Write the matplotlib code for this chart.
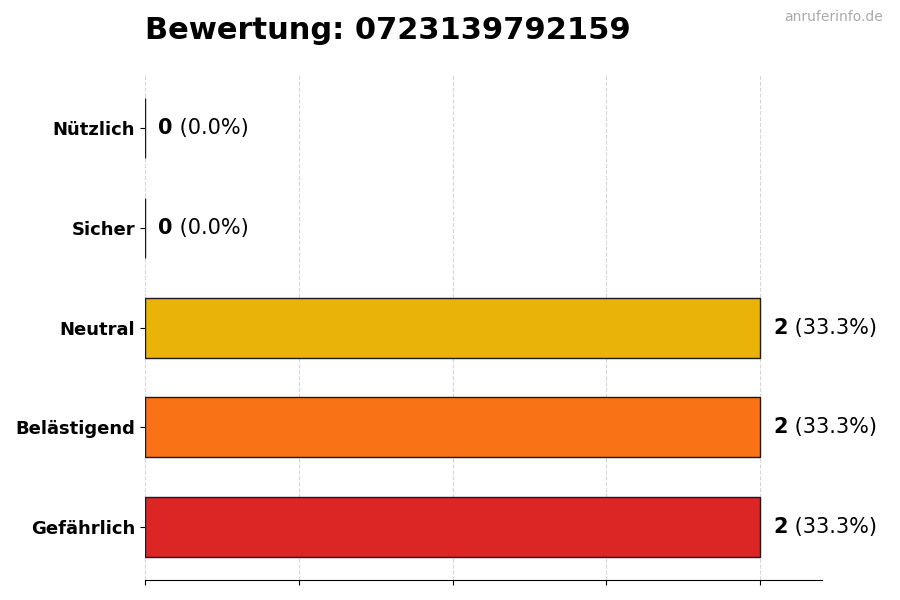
import matplotlib.pyplot as plt

categories = ["Gefährlich", "Belästigend", "Neutral", "Sicher", "Nützlich"]
counts = [2, 2, 2, 0, 0]
percents = [33.3, 33.3, 33.3, 0.0, 0.0]
colors = ["#dc2626", "#f97316", "#eab308", "#22c55e", "#16a34a"]
phone = "0723139792159"


def main():
    fig, ax = plt.subplots(figsize=(9, 6), dpi=100)
    fig.subplots_adjust(left=0.161, right=0.913, top=0.875, bottom=0.033)

    ypos = list(range(len(categories)))
    ax.barh(ypos, counts, height=0.6, color=colors, edgecolor="#1a1a1a",
            linewidth=1, zorder=2)

    xmax = max(counts) * 1.1
    ax.set_xlim(0, xmax)
    ax.set_xticks([0, 0.5, 1, 1.5, 2])
    ax.set_xticklabels([])
    ax.grid(axis="x", linestyle="--", color="#999999", alpha=0.4,
            linewidth=0.8, zorder=3)

    ax.set_yticks(ypos)
    ax.set_yticklabels(categories, fontsize=13, fontweight="bold")

    for side in ["top", "right", "left"]:
        ax.spines[side].set_visible(False)

    for y, c, p in zip(ypos, counts, percents):
        t = ax.text(c + xmax * 0.02, y, str(c), fontsize=15, fontweight="bold",
                    va="center", ha="left")
        ax.annotate(f" ({p:.1f}%)", xy=(1, 0.5), xycoords=t, fontsize=15,
                    va="center", ha="left")

    ax.set_title(f"Bewertung: {phone}", loc="left", fontsize=22,
                 fontweight="bold", pad=26)
    fig.text(0.981, 0.972, "anruferinfo.de", ha="right", va="center",
             fontsize=10, color="#aaaaaa")

    plt.savefig("out.png")


if __name__ == '__main__':
    main()
